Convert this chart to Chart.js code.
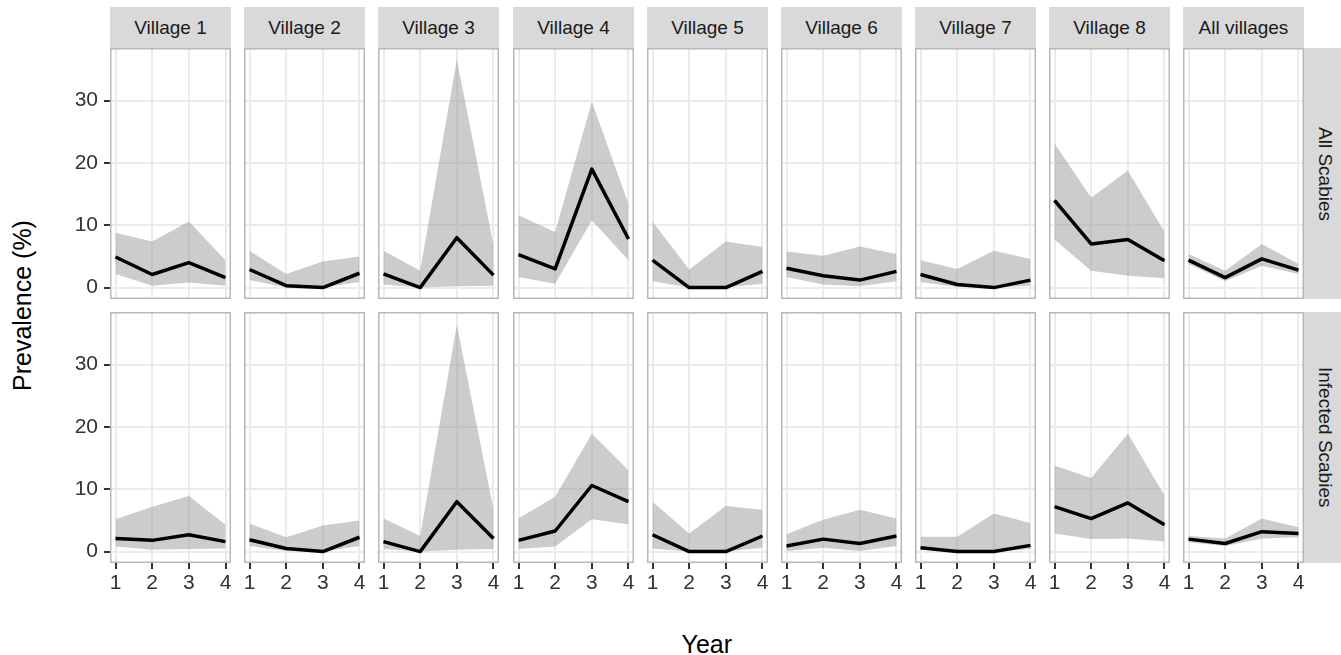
<!DOCTYPE html>
<html>
<head>
<meta charset="utf-8">
<title>Scabies prevalence by village</title>
<script src="https://cdn.jsdelivr.net/npm/chart.js@4.4.1/dist/chart.umd.min.js"></script>
<style>
  body { margin: 0; background: #fff; width: 1341px; height: 655px; overflow: hidden; position: relative;
         font-family: "Liberation Sans", Arial, sans-serif; }
  canvas { position: absolute; }
  .strip { position: absolute; background: #d9d9d9; color: #1a1a1a; font-size: 19px;
           display: flex; align-items: center; justify-content: center; white-space: nowrap; }
  .vstrip { writing-mode: vertical-rl; }
  .title { position: absolute; color: #000; font-size: 25px; white-space: nowrap; }
</style>
</head>
<body>
<div class="title" id="xTitle">Year</div>
<div class="title" id="yTitle">Prevalence (%)</div>
<script>
// ---- data ----
const years = [1, 2, 3, 4];
const villages = ["Village 1", "Village 2", "Village 3", "Village 4", "Village 5",
                  "Village 6", "Village 7", "Village 8", "All villages"];
const outcomes = ["All Scabies", "Infected Scabies"];
const yTicks = [0, 10, 20, 30];
const yLimits = [-1.83, 38.43];
const xLimits = [0.85, 4.15];

// All Scabies: one row per village, values for years 1-4
const allEst = [
  [4.9, 2.1, 4.0, 1.6], [2.9, 0.3, 0.0, 2.3], [2.2, 0.0, 8.0, 2.0],
  [5.3, 3.0, 19.0, 7.8], [4.4, 0.0, 0.0, 2.6], [3.1, 1.9, 1.2, 2.6],
  [2.1, 0.5, 0.0, 1.2], [14.0, 7.0, 7.7, 4.3], [4.4, 1.6, 4.6, 2.8]
];
const allLow = [
  [2.2, 0.3, 0.8, 0.3], [1.2, 0.0, 0.0, 0.9], [0.5, 0.0, 0.2, 0.3],
  [1.7, 0.6, 10.8, 4.4], [1.0, 0.0, 0.0, 0.6], [1.7, 0.5, 0.2, 1.0],
  [0.9, 0.1, 0.0, 0.3], [7.7, 2.7, 1.9, 1.5], [3.8, 1.0, 3.5, 2.2]
];
const allHigh = [
  [8.8, 7.4, 10.6, 4.4], [5.9, 2.2, 4.2, 5.0], [5.9, 2.7, 36.6, 6.8],
  [11.6, 8.9, 29.8, 13.4], [10.6, 2.9, 7.4, 6.5], [5.8, 5.1, 6.6, 5.4],
  [4.4, 3.0, 5.9, 4.6], [23.1, 14.4, 18.8, 8.9], [5.4, 2.7, 7.0, 3.8]
];

// Infected Scabies
const infEst = [
  [2.1, 1.8, 2.7, 1.6], [1.9, 0.5, 0.0, 2.3], [1.6, 0.0, 8.0, 2.1],
  [1.8, 3.3, 10.6, 8.0], [2.7, 0.0, 0.0, 2.5], [0.9, 2.0, 1.3, 2.5],
  [0.6, 0.0, 0.0, 1.0], [7.2, 5.3, 7.8, 4.3], [2.0, 1.3, 3.2, 2.9]
];
const infLow = [
  [0.8, 0.3, 0.4, 0.5], [0.9, 0.1, 0.0, 0.9], [0.4, 0.0, 0.3, 0.4],
  [0.4, 0.8, 5.2, 4.4], [0.5, 0.0, 0.0, 0.6], [0.1, 0.6, 0.1, 0.9],
  [0.3, 0.0, 0.0, 0.4], [2.9, 2.0, 2.1, 1.6], [1.5, 0.9, 2.1, 2.3]
];
const infHigh = [
  [5.2, 7.2, 8.9, 4.3], [4.5, 2.3, 4.2, 5.0], [5.3, 2.5, 36.4, 6.7],
  [5.3, 8.8, 18.9, 13.0], [8.0, 2.9, 7.3, 6.7], [2.8, 5.1, 6.7, 5.3],
  [2.4, 2.4, 6.1, 4.6], [13.8, 11.8, 18.9, 9.0], [2.5, 2.1, 5.3, 3.9]
];

const rows = [
  { est: allEst, low: allLow, high: allHigh },
  { est: infEst, low: infLow, high: infHigh }
];

// ---- layout ----
const PANEL_X0 = 110, PANEL_STEP = 134.17, PANEL_W = 121, PANEL_H = 251;
const ROW_Y = [48, 312];
const STRIP_TOP = 7, STRIP_W = 41;
const Y_AXIS_W = 60, X_AXIS_H = 40;
const FONT = '"Liberation Sans", Arial, sans-serif';

// panel border, drawn over the panel like ggplot's panel.border
const frame = {
  id: "frame",
  afterDraw(chart) {
    const { ctx, chartArea: a } = chart;
    ctx.save();
    ctx.strokeStyle = "#b8b8b8";
    ctx.lineWidth = 1.5;
    ctx.strokeRect(a.left + 0.75, a.top + 0.75, a.width - 1.5, a.height - 1.5);
    ctx.restore();
  }
};

function noPad(s) { s.paddingLeft = s.paddingRight = s.paddingTop = s.paddingBottom = 0; }

rows.forEach((row, r) => {
  villages.forEach((name, c) => {
    const left = Math.round(PANEL_X0 + c * PANEL_STEP);
    const hasY = c === 0, hasX = r === 1;
    const cv = document.createElement("canvas");
    cv.width = PANEL_W + (hasY ? Y_AXIS_W : 0);
    cv.height = PANEL_H + (hasX ? X_AXIS_H : 0);
    cv.style.left = (left - (hasY ? Y_AXIS_W : 0)) + "px";
    cv.style.top = ROW_Y[r] + "px";
    document.body.appendChild(cv);

    const pts = arr => years.map((yr, i) => ({ x: yr, y: arr[c][i] }));

    new Chart(cv, {
      type: "line",
      data: {
        datasets: [
          { data: pts(row.est), borderColor: "#000", borderWidth: 3.5, borderJoinStyle: "round",
            pointRadius: 0, fill: false, tension: 0 },
          { data: pts(row.high), borderWidth: 0, pointRadius: 0, fill: "+1",
            backgroundColor: "rgba(153,153,153,0.5)" },
          { data: pts(row.low), borderWidth: 0, pointRadius: 0, fill: false }
        ]
      },
      options: {
        responsive: false,
        animation: false,
        events: [],
        layout: { padding: 0 },
        plugins: { legend: { display: false }, tooltip: { enabled: false } },
        scales: {
          x: {
            type: "linear", min: xLimits[0], max: xLimits[1],
            afterBuildTicks: s => { s.ticks = years.map(v => ({ value: v })); },
            afterFit: s => { s.height = hasX ? X_AXIS_H : 0; noPad(s); },
            border: { display: false },
            grid: { color: "#ebebeb", lineWidth: 2, drawTicks: hasX, tickLength: 6,
                    tickColor: "#333", tickWidth: 2 },
            ticks: { display: hasX, color: "#333", padding: 2, maxRotation: 0, autoSkip: false,
                     font: { family: FONT, size: 21 } }
          },
          y: {
            min: yLimits[0], max: yLimits[1],
            afterBuildTicks: s => { s.ticks = yTicks.map(v => ({ value: v })); },
            afterFit: s => { s.width = hasY ? Y_AXIS_W : 0; noPad(s); },
            border: { display: false },
            grid: { color: "#ebebeb", lineWidth: 2, drawTicks: hasY, tickLength: 6,
                    tickColor: "#333", tickWidth: 2 },
            ticks: { display: hasY, color: "#333", padding: 6,
                     font: { family: FONT, size: 21 } }
          }
        }
      },
      plugins: [frame]
    });
  });
});

// facet strips
villages.forEach((name, c) => {
  const d = document.createElement("div");
  d.className = "strip";
  d.textContent = name;
  d.style.left = Math.round(PANEL_X0 + c * PANEL_STEP) + "px";
  d.style.top = STRIP_TOP + "px";
  d.style.width = PANEL_W + "px";
  d.style.height = (ROW_Y[0] - STRIP_TOP) + "px";
  document.body.appendChild(d);
});
const panelRight = Math.round(PANEL_X0 + (villages.length - 1) * PANEL_STEP) + PANEL_W;
outcomes.forEach((name, r) => {
  const d = document.createElement("div");
  d.className = "strip vstrip";
  d.textContent = name;
  d.style.left = panelRight + "px";
  d.style.top = ROW_Y[r] + "px";
  d.style.width = STRIP_W + "px";
  d.style.height = PANEL_H + "px";
  document.body.appendChild(d);
});

// axis titles
const xT = document.getElementById("xTitle");
xT.style.left = (PANEL_X0 + panelRight) / 2 - xT.offsetWidth / 2 + "px";
xT.style.top = 630 + "px";
const yT = document.getElementById("yTitle");
yT.style.transform = "rotate(-90deg)";
yT.style.left = 22 - yT.offsetWidth / 2 + "px";
yT.style.top = (ROW_Y[0] + ROW_Y[1] + PANEL_H) / 2 - yT.offsetHeight / 2 + "px";
</script>
</body>
</html>
